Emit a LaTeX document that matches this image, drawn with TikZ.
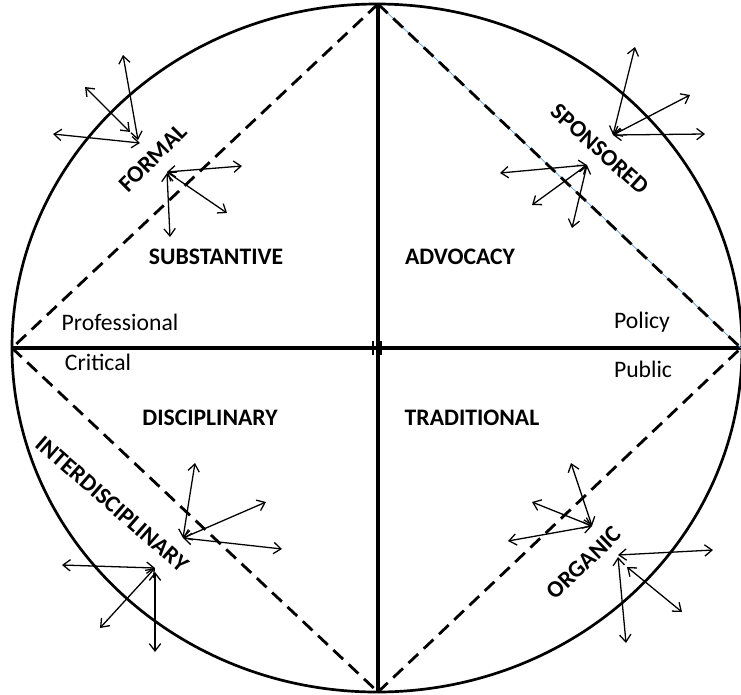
\documentclass[tikz,border=0pt]{standalone}
\usepackage{fontspec}
\setmainfont{Carlito}
\usepackage{tikz}
\usetikzlibrary{arrows.meta}
\definecolor{guideblue}{HTML}{5B9BD5}
\tikzset{
  axis/.style={line width=3.4pt},
  rim/.style={line width=2.3pt},
  split/.style={line width=2.4pt, dash pattern=on 4mm off 2.3mm},
  twoway/.style={line width=1.1pt, {Straight Barb[length=2.2mm,width=3.4mm]}-{Straight Barb[length=2.2mm,width=3.4mm]}},
  field/.style={font=\fontsize{20.2}{23}\selectfont\bfseries},
  mode/.style={font=\fontsize{20.2}{23}\selectfont},
  slant/.style={font=\fontsize{20.2}{23}\selectfont\bfseries}
}

\begin{document}
\begin{tikzpicture}[x=0.03cm, y=-0.03cm]
    \useasboundingbox (0,0) rectangle (741,694);
    \coordinate (O) at (377,348);  %Mitte
    \coordinate (top) at (378,4);
    \coordinate (bottom) at (378,692);
    \coordinate (left) at (12,348);
    \coordinate (right) at (741,348);
    \draw[rim] (O) ellipse [x radius=365, y radius=344];  %Rand
    \draw[axis] (top) -- (bottom);  %Ordinate
    \draw[axis] (left) -- (right);  %Abzisse
    \draw[line width=1pt] (373,341) -- (373,355);  %Markierung
    \draw[line width=1pt] (381,341) -- (381,355);
    \draw[guideblue, line width=0.6pt] (top) -- (right);  %Hilfslinie
    \draw[split] (top) -- (left);
    \draw[split] (top) -- (right);
    \draw[split] (left) -- (bottom);
    \draw[split] (bottom) -- (right);
    \node[field] (substantive) at (216,257) {SUBSTANTIVE};
    \node[field] (advocacy) at (460,257) {ADVOCACY};
    \node[field] (disciplinary) at (210,418) {DISCIPLINARY};
    \node[field] (traditional) at (472,418) {TRADITIONAL};
    \node[mode] (professional) at (120,322) {Professional};
    \node[mode] (critical) at (98,362) {Critical};
    \node[mode] (policy) at (642,322) {Policy};
    \node[mode] (public) at (643,369) {Public};
    \node[slant, rotate=45] (formal) at (153,158) {FORMAL};
    \node[slant, rotate=-42] (sponsored) at (600,149) {SPONSORED};
    \node[slant, rotate=-41] (interdisc) at (112,504) {INTERDISCIPLINARY};
    \node[slant, rotate=44] (organic) at (584,563) {ORGANIC};
    \foreach \sx/\sy/\ex/\ey in
    {
      138/140/123/55, 130/132/85/87, 140/143/53/134,  %formal oben
      167/172/242/166, 167/172/227/213, 167/173/170/237,  %formal unten
      613/135/635/47, 613/135/690/95, 613/135/705/134,  %sponsored oben
      587/165/500/173, 587/165/532/205, 587/165/572/228,  %sponsored unten
      183/538/195/463, 183/538/266/502, 183/538/282/549,  %interdisciplinary oben
      155/568/62/565, 155/568/100/628, 155/572/155/652,  %interdisciplinary unten
      592/526/571/463, 592/526/532/502, 592/526/508/541,  %organic oben
      618/555/713/550, 627/567/682/612, 618/557/626/643  %organic unten
    }
    {
      \coordinate (hub) at (\sx,\sy);
      \coordinate (tip) at (\ex,\ey);
      \draw[twoway] (hub) -- (tip);
    };
\end{tikzpicture}
\end{document}
